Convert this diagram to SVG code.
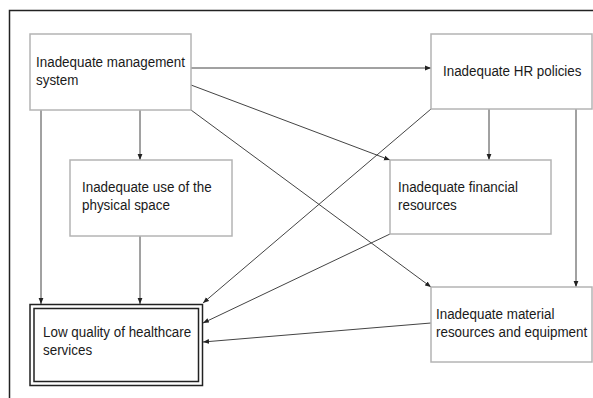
<svg xmlns="http://www.w3.org/2000/svg" width="593" height="398" viewBox="0 0 593 398">
<style>
.box{fill:#fff;stroke:#b4b4b4;stroke-width:1.5}
.t{font-family:"Liberation Sans",Arial,sans-serif;font-size:14px;fill:#1a1a1a}
.c{fill:none;stroke:#444;stroke-width:1}
.d{fill:none;stroke:#222;stroke-width:1.5}
</style>
<defs>
<marker id="ah" viewBox="0 0 10 10" refX="10" refY="5" markerWidth="6" markerHeight="6" orient="auto" markerUnits="userSpaceOnUse">
<path d="M0,1 L10,5 L0,9 z" fill="#222"/>
</marker>
</defs>
<rect width="593" height="398" fill="#fff"/>
<path d="M9.5,398 V10.5 H593" fill="none" stroke="#222" stroke-width="1.5"/>
<g id="connectors">
<line class="c" x1="191" y1="68" x2="431" y2="68" marker-end="url(#ah)"/>
<line class="c" x1="140" y1="110" x2="140" y2="160" marker-end="url(#ah)"/>
<line class="c" x1="41" y1="110" x2="41" y2="304" marker-end="url(#ah)"/>
<line class="c" x1="191" y1="85" x2="390" y2="160" marker-end="url(#ah)"/>
<line class="c" x1="191" y1="110" x2="431" y2="287" marker-end="url(#ah)"/>
<line class="c" x1="431" y1="109" x2="203" y2="303" marker-end="url(#ah)"/>
<line class="c" x1="489" y1="109" x2="489" y2="160" marker-end="url(#ah)"/>
<line class="c" x1="576" y1="109" x2="576" y2="287" marker-end="url(#ah)"/>
<line class="c" x1="390" y1="234" x2="203" y2="323" marker-end="url(#ah)"/>
<line class="c" x1="431" y1="323" x2="203" y2="342" marker-end="url(#ah)"/>
<line class="c" x1="140" y1="236" x2="140" y2="304" marker-end="url(#ah)"/>
</g>
<g id="mgmt">
<rect class="box" x="30" y="34" width="161" height="76"/>
<text class="t" x="36" y="66.5" textLength="149" lengthAdjust="spacingAndGlyphs">Inadequate management</text>
<text class="t" x="36" y="85" textLength="42.4" lengthAdjust="spacingAndGlyphs">system</text>
</g>
<g id="hr">
<rect class="box" x="431" y="34" width="161" height="75"/>
<text class="t" x="443" y="76" textLength="138.5" lengthAdjust="spacingAndGlyphs">Inadequate HR policies</text>
</g>
<g id="physical">
<rect class="box" x="70" y="160" width="162" height="76"/>
<text class="t" x="82" y="192" textLength="129.6" lengthAdjust="spacingAndGlyphs">Inadequate use of the</text>
<text class="t" x="82" y="210" textLength="87.9" lengthAdjust="spacingAndGlyphs">physical space</text>
</g>
<g id="financial">
<rect class="box" x="390" y="160" width="161" height="74"/>
<text class="t" x="398" y="192" textLength="119.9" lengthAdjust="spacingAndGlyphs">Inadequate financial</text>
<text class="t" x="398" y="210" textLength="58.8" lengthAdjust="spacingAndGlyphs">resources</text>
</g>
<g id="material">
<rect class="box" x="431" y="287" width="161" height="75"/>
<text class="t" x="436" y="319" textLength="118.4" lengthAdjust="spacingAndGlyphs">Inadequate material</text>
<text class="t" x="436" y="337" textLength="151.2" lengthAdjust="spacingAndGlyphs">resources and equipment</text>
</g>
<g id="lowquality">
<rect x="30" y="304.5" width="172.5" height="81" fill="#fff" stroke="#222" stroke-width="1.5"/>
<rect class="d" x="34" y="308.5" width="164.5" height="73"/>
<text class="t" x="43" y="337" textLength="148.2" lengthAdjust="spacingAndGlyphs">Low quality of healthcare</text>
<text class="t" x="43" y="355" textLength="49.1" lengthAdjust="spacingAndGlyphs">services</text>
</g>
</svg>
